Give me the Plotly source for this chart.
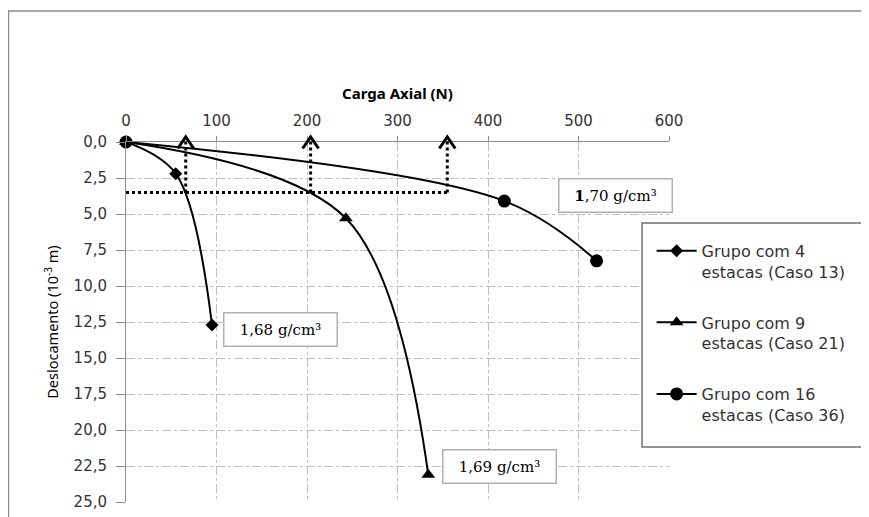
import plotly.graph_objects as go

# Carga axial (N) x deslocamento (10^-3 m)
carga_4 = [0, 55, 95]
desl_4 = [0.0, 2.2, 12.7]
carga_9 = [0, 243, 334]
desl_9 = [0.0, 5.3, 23.1]
carga_16 = [0, 418, 520]
desl_16 = [0.0, 4.1, 8.25]

nomes = ['Grupo com 4<br>estacas (Caso 13)',
         'Grupo com 9<br>estacas (Caso 21)',
         'Grupo com 16<br>estacas (Caso 36)']
simbolos = ['diamond', 'triangle-up', 'circle']
tamanhos = [10, 12, 13]

# dotted reference lines: level of 3,5 mm and the loads where it is reached
nivel_ref = 3.5
cargas_ref = [66, 204, 355]

# density labels (x, y, text)
rot_x = [171, 413, 541]
rot_y = [13.0, 22.5, 3.7]
rot_txt = ['1,68 g/cm³', '1,69 g/cm³', '<b>1</b>,70 g/cm³']

Y_MAX = 25.0
FONTE = 'Noto Sans'
FONTE_TICK = 'DejaVu Sans'
CINZA = '#8c8c8c'


def y_dom(v):
    # data value -> y domain fraction (reversed axis, 0 at the top)
    return 1 - v / Y_MAX


fig = go.Figure()

for cx, dy, nome, sb, tm in zip([carga_4, carga_9, carga_16],
                                [desl_4, desl_9, desl_16],
                                nomes, simbolos, tamanhos):
    fig.add_trace(go.Scatter(x=cx, y=dy, name=nome, mode='lines+markers',
                             line=dict(color='black', width=2, shape='spline', smoothing=1),
                             marker=dict(symbol=sb, size=tm, color='black'),
                             legendgroup=nome, cliponaxis=False))

shapes = []
# horizontal dotted line
shapes.append(dict(type='line', xref='x', yref='y', x0=0, x1=max(cargas_ref),
                   y0=nivel_ref, y1=nivel_ref,
                   line=dict(color='black', width=3, dash='dot')))
for c in cargas_ref:
    shapes.append(dict(type='line', xref='x', yref='y domain', x0=c, x1=c,
                       y0=y_dom(nivel_ref), y1=y_dom(-0.2),
                       line=dict(color='black', width=3, dash='dot')))
    shapes.append(dict(type='path', xref='x', yref='y domain',
                       path='M {},{} L {},{} L {},{}'.format(c - 8.8, y_dom(0.45), c, y_dom(-0.35),
                                                             c + 8.8, y_dom(0.45)),
                       line=dict(color='black', width=3)))
# legend frame
shapes.append(dict(type='rect', xref='paper', yref='paper', x0=0.9503, x1=1.3646,
                   y0=0.153, y1=0.775, fillcolor='white',
                   line=dict(color='#707070', width=1.5), layer='above'))
# outer chart frame
shapes.append(dict(type='rect', xref='paper', yref='paper', x0=-0.2164, x1=1.45,
                   y0=-0.1, y1=1.364, line=dict(color=CINZA, width=1.5), layer='below'))

annotations = []
for x, y, t in zip(rot_x, rot_y, rot_txt):
    annotations.append(dict(x=x, y=y, xref='x', yref='y', text=t, showarrow=False,
                            font=dict(family='DejaVu Serif', size=15, color='black'),
                            bgcolor='white', bordercolor='#b0b0b0', borderwidth=1.5,
                            width=110, height=30))

fig.update_layout(
    width=861, height=509,
    margin=dict(l=118, r=200, t=134, b=15, autoexpand=False),
    paper_bgcolor='white', plot_bgcolor='white',
    separators=',.',
    font=dict(family=FONTE, size=14, color='#333333'),
    shapes=shapes, annotations=annotations,
    showlegend=True,
    legend=dict(x=0.968, y=0.745, xanchor='left', yanchor='top',
                borderwidth=0, bgcolor='rgba(0,0,0,0)', valign='top',
                font=dict(family=FONTE_TICK, size=16, color='#333333'),
                itemwidth=40, tracegroupgap=27, traceorder='grouped'),
)

fig.update_xaxes(range=[0, 600], dtick=100, side='top', automargin=False,
                 showline=True, linecolor=CINZA, linewidth=1,
                 showgrid=True, gridcolor='#bfbfbf', griddash='dashdot', gridwidth=1,
                 ticks='outside', ticklen=5, tickcolor=CINZA, ticklabelstandoff=4,
                 tickfont=dict(family=FONTE_TICK, size=15, color='#333333'),
                 zeroline=False,
                 title=dict(text='<b>Carga Axial (N)</b>', standoff=8,
                            font=dict(family=FONTE, size=15, color='black')))
fig.update_yaxes(range=[Y_MAX, 0], dtick=2.5, tickformat='.1f', automargin=False,
                 showline=True, linecolor=CINZA, linewidth=1,
                 showgrid=True, gridcolor='#bfbfbf', griddash='dashdot', gridwidth=1,
                 ticks='outside', ticklen=9, tickcolor=CINZA, ticklabelstandoff=6,
                 tickfont=dict(family=FONTE_TICK, size=15, color='#333333'),
                 zeroline=False,
                 title=dict(text='Deslocamento (10<sup>-3</sup> m)', standoff=11,
                            font=dict(family=FONTE, size=14.5, color='black')))

fig.write_html('out.html')
